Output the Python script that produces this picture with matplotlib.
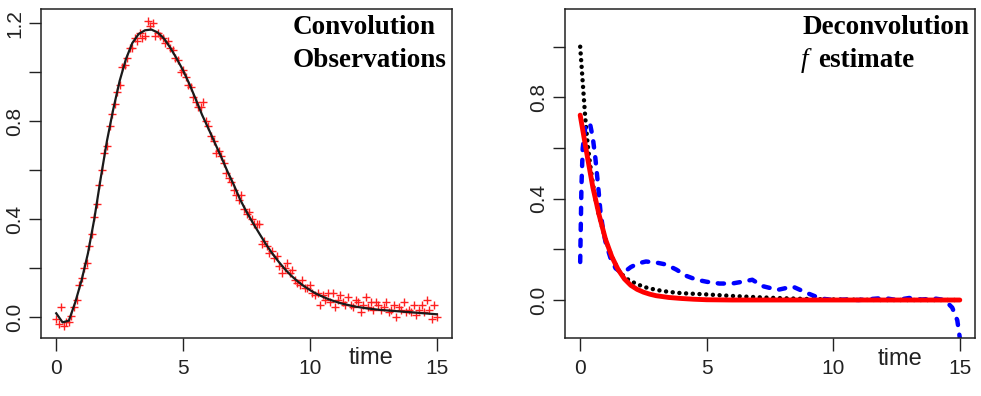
import matplotlib.pyplot as plt
import numpy as np

# left panel: fitted convolution curve and noisy observations
t_fit = np.arange(0, 15.01, 0.25)
conv_fit = [0.015, -0.022, -0.015, 0.06, 0.15, 0.26, 0.40, 0.565, 0.72, 0.85,
            0.965, 1.055, 1.12, 1.157, 1.172, 1.175, 1.163, 1.138, 1.10, 1.056,
            1.008, 0.952, 0.89, 0.826, 0.77, 0.712, 0.655, 0.595, 0.54, 0.48,
            0.43, 0.385, 0.342, 0.30, 0.262, 0.228, 0.197, 0.17, 0.147, 0.127,
            0.11, 0.095, 0.083, 0.072, 0.063, 0.055, 0.049, 0.043, 0.039, 0.035,
            0.032, 0.029, 0.027, 0.025, 0.023, 0.021, 0.019, 0.017, 0.015, 0.013,
            0.011]

t_obs = np.arange(0, 15.01, 0.1)
obs = [-0.01, -0.03, 0.04, -0.035, -0.02, -0.02, 0.005, 0.04, 0.07, 0.13,
       0.16, 0.2, 0.22, 0.29, 0.34, 0.41, 0.46, 0.54, 0.6, 0.67,
       0.7, 0.78, 0.83, 0.87, 0.92, 0.95, 1.02, 1.03, 1.06, 1.1,
       1.1, 1.14, 1.13, 1.16, 1.14, 1.15, 1.21, 1.19, 1.2, 1.15,
       1.16, 1.15, 1.14, 1.12, 1.13, 1.1, 1.09, 1.06, 1.05, 1.0,
       1.01, 0.98, 0.95, 0.94, 0.9, 0.88, 0.86, 0.86, 0.88, 0.8,
       0.78, 0.74, 0.72, 0.67, 0.68, 0.66, 0.63, 0.59, 0.57, 0.55,
       0.52, 0.5, 0.48, 0.5, 0.44, 0.42, 0.43, 0.4, 0.38, 0.38,
       0.38, 0.3, 0.31, 0.29, 0.26, 0.27, 0.24, 0.25, 0.21, 0.18,
       0.2, 0.22, 0.18, 0.19, 0.15, 0.14, 0.13, 0.15, 0.12, 0.12,
       0.13, 0.1, 0.09, 0.1, 0.05, 0.09, 0.07, 0.1, 0.06, 0.1,
       0.04, 0.07, 0.09, 0.06, 0.05, 0.08, 0.05, 0.04, 0.07, 0.06,
       0.02, 0.05, 0.08, 0.04, 0.06, 0.03, 0.06, 0.05, 0.03, 0.04,
       0.06, 0.02, 0.03, 0.05, 0.0, 0.04, 0.03, 0.06, 0.02, 0.03,
       0.02, 0.05, 0.01, 0.03, 0.05, 0.02, 0.07, 0.03, -0.01, 0.05,
       0.0]

# right panel: true f (dotted), smooth estimate (red), raw deconvolution (blue)
t_true = [0.0, 0.05, 0.1, 0.15, 0.2, 0.3, 0.4, 0.5, 0.6, 0.75, 1.0, 1.25, 1.5,
          1.75, 2.0, 2.5, 3.0, 3.5, 4.0, 5.0, 6.0, 7.0, 8.0, 9.0, 10.0, 11.0,
          12.0, 13.0, 14.0, 15.0]
f_true = [1.0, 0.93, 0.86, 0.79, 0.72, 0.61, 0.53, 0.46, 0.40, 0.33, 0.24, 0.17,
          0.12, 0.09, 0.074, 0.052, 0.04, 0.032, 0.027, 0.022, 0.016, 0.011,
          0.007, 0.004, 0.002, 0.001, 0.0, 0.0, 0.0, 0.0]

t_est = [0.0, 0.25, 0.5, 0.75, 1.0, 1.25, 1.5, 1.75, 2.0, 2.25, 2.5, 2.75, 3.0,
         3.5, 4.0, 4.5, 5.0, 6.0, 8.0, 10.0, 12.0, 14.0, 15.0]
f_est = [0.73, 0.585, 0.445, 0.335, 0.24, 0.171, 0.12, 0.083, 0.058, 0.042,
         0.031, 0.023, 0.017, 0.01, 0.006, 0.003, 0.001, 0.0, 0.0, 0.0, 0.0,
         0.0, 0.0]

t_dec = [0.0, 0.05, 0.1, 0.2, 0.3, 0.4, 0.5, 0.6, 0.7, 0.8, 0.9, 1.0, 1.2, 1.4,
         1.6, 1.8, 2.0, 2.3, 2.6, 3.0, 3.4, 3.8, 4.2, 4.6, 5.0, 5.5, 6.0, 6.4,
         6.8, 7.2, 7.8, 8.4, 9.0, 9.5, 10.0, 10.5, 11.0, 11.5, 12.0, 12.5, 13.0,
         13.5, 14.0, 14.4, 14.7, 14.9, 15.0]
f_dec = [0.15, 0.45, 0.6, 0.68, 0.70, 0.69, 0.64, 0.56, 0.46, 0.35, 0.28, 0.23,
         0.165, 0.125, 0.11, 0.115, 0.13, 0.145, 0.152, 0.148, 0.14, 0.12, 0.095,
         0.08, 0.072, 0.065, 0.065, 0.072, 0.08, 0.055, 0.04, 0.053, 0.026,
         0.006, 0.0, 0.002, 0.0, 0.004, 0.008, 0.0, 0.008, 0.002, 0.006, 0.0,
         -0.03, -0.08, -0.15]

sans = "Liberation Sans"
serif = "Liberation Serif"

fig = plt.figure(figsize=(9.81, 3.96), dpi=100)
ax1 = fig.add_axes([41 / 981, 58 / 396, 411 / 981, 329 / 396])
ax2 = fig.add_axes([565 / 981, 58 / 396, 410 / 981, 329 / 396])

ax1.plot(t_obs, obs, "+", color="#ff2020", markersize=6, markeredgewidth=1)
ax1.plot(t_fit, conv_fit, color="#1a1a1a", lw=1.6)

ax2.plot(t_true, f_true, color="black", lw=3.2, dashes=(0.01, 1.5),
         dash_capstyle="round")
ax2.plot(t_dec, f_dec, color="#0000ff", lw=3.2, dashes=(1.4, 2.2),
         dash_capstyle="round")
ax2.plot(t_est, f_est, color="#ff0000", lw=3.5, solid_capstyle="round")

ax1.set_xlim(-0.6, 15.6)
ax1.set_ylim(-0.086, 1.259)
ax2.set_xlim(-0.6, 15.6)
ax2.set_ylim(-0.15, 1.149)

ax1.set_yticks([0, 0.2, 0.4, 0.6, 0.8, 1.0, 1.2])
ax1.set_yticklabels(["0.0", "", "0.4", "", "0.8", "", "1.2"])
ax2.set_yticks([0, 0.2, 0.4, 0.6, 0.8, 1.0])
ax2.set_yticklabels(["0.0", "", "0.4", "", "0.8", ""])

for ax in (ax1, ax2):
    ax.set_xticks([0, 5, 10, 15])
    ax.set_xticklabels(["0", "5", "10", "15"])
    ax.tick_params(direction="out", length=9, width=1, pad=6,
                   labelsize=15, color="#222222", labelcolor="#222222")
    ax.tick_params(axis="y", labelrotation=90, pad=3)
    for lab in ax.get_yticklabels():
        lab.set_va("center")
    for lab in ax.get_xticklabels() + ax.get_yticklabels():
        lab.set_family(sans)
    for s in ax.spines.values():
        s.set_linewidth(1.1)
        s.set_color("#222222")

# legend-like text in the corners
ax1.text(9.3, 1.158, "Convolution", family=serif, weight="bold", fontsize=19.5,
         va="baseline", ha="left")
ax1.text(9.3, 1.022, "Observations", family=serif, weight="bold", fontsize=19.5,
         va="baseline", ha="left")
ax2.text(8.8, 1.052, "Deconvolution", family=serif, weight="bold", fontsize=19.5,
         va="baseline", ha="left")
ax2.text(8.72, 0.92, "f", family=serif, style="italic", fontsize=19.5,
         va="baseline", ha="left")
ax2.text(9.4, 0.92, "estimate", family=serif, weight="bold", fontsize=19.5,
         va="baseline", ha="left")

ax1.text(12.4, -0.192, "time", family=sans, fontsize=17, ha="center",
         va="baseline", clip_on=False, color="#222222")
ax2.text(12.63, -0.257, "time", family=sans, fontsize=17, ha="center",
         va="baseline", clip_on=False, color="#222222")

fig.savefig("out.png", dpi=100)
